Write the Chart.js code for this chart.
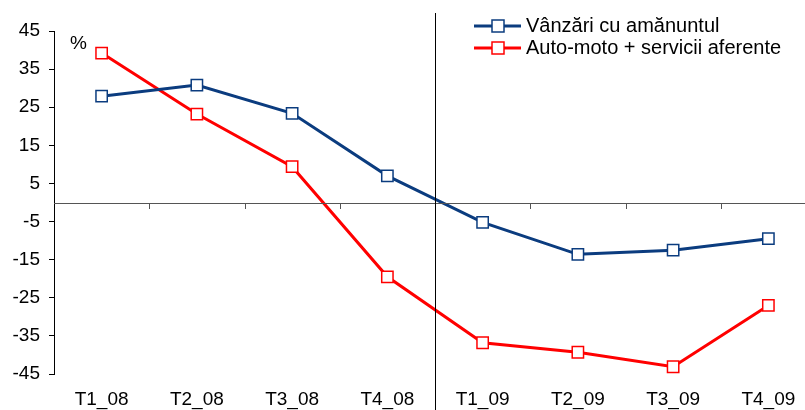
<!DOCTYPE html>
<html>
<head>
<meta charset="utf-8">
<script src="https://cdn.jsdelivr.net/npm/chart.js@4/dist/chart.umd.min.js"></script>
<style>
  html, body { margin: 0; padding: 0; background: #fff; overflow: hidden; }
  #wrap { width: 805px; height: 410px; overflow: hidden; }
</style>
</head>
<body>
<div id="wrap"><canvas id="chart1" width="830" height="410"></canvas></div>
<script>
const categories = ['T1_08', 'T2_08', 'T3_08', 'T4_08', 'T1_09', 'T2_09', 'T3_09', 'T4_09']
const retail = [27.9, 30.8, 23.4, 7.0, -5.2, -13.6, -12.5, -9.5]
const autoMoto = [39.2, 23.2, 9.4, -19.5, -36.8, -39.3, -43.1, -27.0]
const yTicks = [-45, -35, -25, -15, -5, 5, 15, 25, 35, 45]

const FONT = 'Liberation Sans, Arial, sans-serif'
const FSIZE = 19

// zero line, divider between years, % mark and legend
const extras = {
    id: 'extras',
    afterDraw(chart) {
        const ctx = chart.ctx
        const x = chart.scales.x, y = chart.scales.y
        const area = chart.chartArea
        const y0 = Math.round(y.getPixelForValue(0))
        ctx.save()

        ctx.strokeStyle = '#555'
        ctx.lineWidth = 1
        ctx.beginPath()
        ctx.moveTo(area.left, y0 + 0.5)
        ctx.lineTo(area.right, y0 + 0.5)
        for (let i = 1; i < categories.length; i++) {
            const bx = Math.round((x.getPixelForValue(i - 1) + x.getPixelForValue(i)) / 2) + 0.5
            ctx.moveTo(bx, y0)
            ctx.lineTo(bx, y0 + 6)
        }
        ctx.stroke()

        // year divider
        const dx = Math.round((x.getPixelForValue(3) + x.getPixelForValue(4)) / 2) + 0.5
        ctx.strokeStyle = '#000'
        ctx.beginPath()
        ctx.moveTo(dx, 13)
        ctx.lineTo(dx, chart.height)
        ctx.stroke()

        ctx.fillStyle = '#000'
        ctx.font = FSIZE + 'px ' + FONT
        ctx.textBaseline = 'middle'
        ctx.fillText('%', 70, 44)

        // legend
        ctx.font = '20px ' + FONT
        chart.data.datasets.forEach((ds, i) => {
            const ly = 26 + i * 22
            ctx.strokeStyle = ds.borderColor
            ctx.lineWidth = 3
            ctx.beginPath()
            ctx.moveTo(474, ly)
            ctx.lineTo(521, ly)
            ctx.stroke()
            ctx.fillStyle = '#fff'
            ctx.lineWidth = 1.5
            ctx.fillRect(492, ly - 6, 12, 12)
            ctx.strokeRect(492, ly - 6, 12, 12)
            ctx.fillStyle = '#000'
            ctx.fillText(ds.label, 526, ly)
        })
        ctx.restore()
    }
}

new Chart('chart1', {
    type: 'line',
    data: {
        labels: categories,
        datasets: [
            {
                label: 'Vânzări cu amănuntul',
                data: retail,
                borderColor: '#0b3c7f',
                backgroundColor: '#ffffff',
                borderWidth: 3,
                pointStyle: 'rect',
                pointRadius: 8,
                pointBorderWidth: 1.5,
                tension: 0
            },
            {
                label: 'Auto-moto + servicii aferente',
                data: autoMoto,
                borderColor: '#ff0000',
                backgroundColor: '#ffffff',
                borderWidth: 3,
                pointStyle: 'rect',
                pointRadius: 8,
                pointBorderWidth: 1.5,
                tension: 0
            }
        ]
    },
    options: {
        responsive: false,
        animation: false,
        layout: { padding: { top: 31, right: 14, left: 0, bottom: 0 } },
        scales: {
            x: {
                offset: true,
                grid: { display: false },
                border: { display: false },
                ticks: { color: '#000', font: { family: FONT, size: FSIZE }, padding: 6, maxRotation: 0 },
                afterFit(s) { s.height = 36 }
            },
            y: {
                min: -45,
                max: 45,
                afterBuildTicks(s) { s.ticks = yTicks.map(v => ({ value: v })) },
                grid: { drawOnChartArea: false, drawTicks: true, tickLength: 5, tickColor: '#000' },
                border: { display: true, color: '#000', width: 1 },
                ticks: { color: '#000', font: { family: FONT, size: FSIZE }, padding: 9 },
                afterFit(s) { s.width = 54 }
            }
        },
        plugins: {
            legend: { display: false },
            tooltip: { enabled: false }
        }
    },
    plugins: [extras]
})
</script>
</body>
</html>
